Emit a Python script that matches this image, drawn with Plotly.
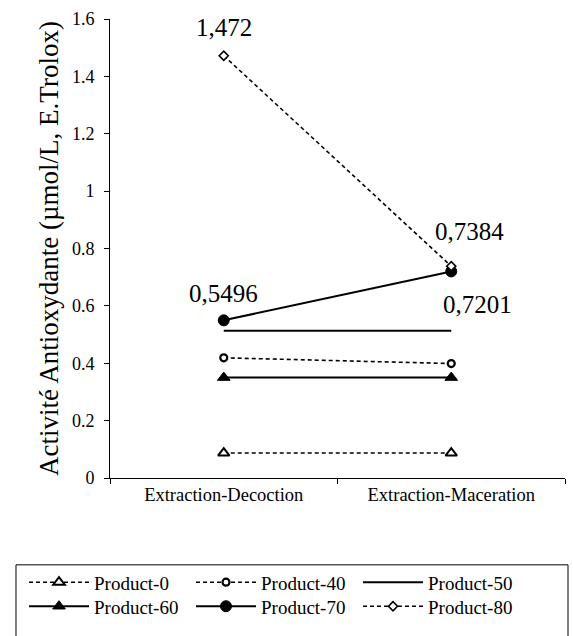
import plotly.graph_objects as go

categories = ["Extraction-Decoction", "Extraction-Maceration"]
series_names = ["Product-0", "Product-40", "Product-50", "Product-60", "Product-70", "Product-80"]
product_0 = [0.087, 0.087]
product_40 = [0.419, 0.399]
product_50 = [0.513, 0.513]
product_60 = [0.35, 0.35]
product_70 = [0.5496, 0.7201]
product_80 = [1.472, 0.7384]
y_ticks = [0, 0.2, 0.4, 0.6, 0.8, 1, 1.2, 1.4, 1.6]
y_tick_text = ["0", "0.2", "0.4", "0.6", "0.8", "1", "1.2", "1.4", "1.6"]

FONT = "Liberation Serif"
DASH = "4px,3px"

styles = [
    dict(values=product_0, dash=DASH, mode="lines+markers", legend="legend",
         marker=dict(symbol="triangle-up", size=10, color="white", line=dict(color="black", width=2))),
    dict(values=product_40, dash=DASH, mode="lines+markers", legend="legend",
         marker=dict(symbol="circle", size=7, color="white", line=dict(color="black", width=2.2))),
    dict(values=product_50, dash="solid", mode="lines", marker=None, legend="legend"),
    dict(values=product_60, dash="solid", mode="lines+markers", legend="legend2",
         marker=dict(symbol="triangle-up", size=11, color="black", line=dict(color="black", width=1))),
    dict(values=product_70, dash="solid", mode="lines+markers", legend="legend2",
         marker=dict(symbol="circle", size=11, color="black", line=dict(color="black", width=1))),
    dict(values=product_80, dash=DASH, mode="lines+markers", legend="legend2",
         marker=dict(symbol="diamond", size=7, color="white", line=dict(color="black", width=1.6))),
]

fig = go.Figure()
for name, st in zip(series_names, styles):
    kw = dict(x=categories, y=st["values"], name=name, mode=st["mode"], legend=st["legend"],
              line=dict(color="black", width=1.6 if st["dash"] != "solid" else 2, dash=st["dash"]))
    if st["marker"] is not None:
        kw["marker"] = st["marker"]
    fig.add_trace(go.Scatter(**kw))

# value labels
def fmt(v):
    return str(v).replace(".", ",")

labels = [
    (categories[0], product_80[0], 0, 28),
    (categories[1], product_80[1], 18, 35),
    (categories[0], product_70[0], 0, 27),
    (categories[1], product_70[1], 26, -33),
]
for cx, cy, xs, ys in labels:
    fig.add_annotation(x=cx, y=cy, text=fmt(cy), showarrow=False, xshift=xs, yshift=ys,
                       font=dict(family=FONT, size=25, color="black"))

# legend frame
fig.add_shape(type="rect", xref="paper", yref="paper", x0=-0.2066, x1=1.0066, y0=-0.36, y1=-0.1892,
              line=dict(color="black", width=1), fillcolor="rgba(0,0,0,0)")

legend_common = dict(orientation="h", x=-0.189, xanchor="left", yanchor="top",
                     font=dict(family=FONT, size=19, color="black"),
                     itemwidth=60, entrywidth=92, entrywidthmode="pixels",
                     bgcolor="rgba(0,0,0,0)", borderwidth=0)

fig.update_layout(
    width=573, height=636,
    margin=dict(l=110, r=8, t=19, b=158, autoexpand=False),
    paper_bgcolor="white", plot_bgcolor="white",
    font=dict(family=FONT, size=18, color="black"),
    showlegend=True,
    legend=dict(y=-0.1859, **legend_common),
    legend2=dict(y=-0.2383, **legend_common),
    xaxis=dict(type="category", range=[-0.5, 1.5], tickson="boundaries", ticks="outside", ticklen=5,
               tickcolor="black", showline=True, linecolor="black", linewidth=1, showgrid=False,
               zeroline=False, tickfont=dict(family=FONT, size=18.5)),
    yaxis=dict(range=[0, 1.6], tickvals=y_ticks, ticktext=y_tick_text, ticks="outside", ticklen=5,
               tickcolor="black", showline=True, linecolor="black", linewidth=1, showgrid=False,
               zeroline=False, tickfont=dict(family=FONT, size=18), ticklabelstandoff=6,
               title=dict(text="Activité Antioxydante (µmol/L, E.Trolox)",
                          font=dict(family=FONT, size=27), standoff=5)),
    xaxis2=dict(overlaying="x", anchor="y", side="bottom", range=[-0.5, 1.5],
                tickvals=[-0.5, 0.5, 1.5], ticks="inside", ticklen=6, tickcolor="black",
                showticklabels=False, showline=False, showgrid=False, zeroline=False),
    yaxis2=dict(overlaying="y", anchor="x", side="left", range=[0, 1.6],
                tickvals=y_ticks, ticks="inside", ticklen=5, tickcolor="black",
                showticklabels=False, showline=False, showgrid=False, zeroline=False),
)

fig.write_html("out.html")
